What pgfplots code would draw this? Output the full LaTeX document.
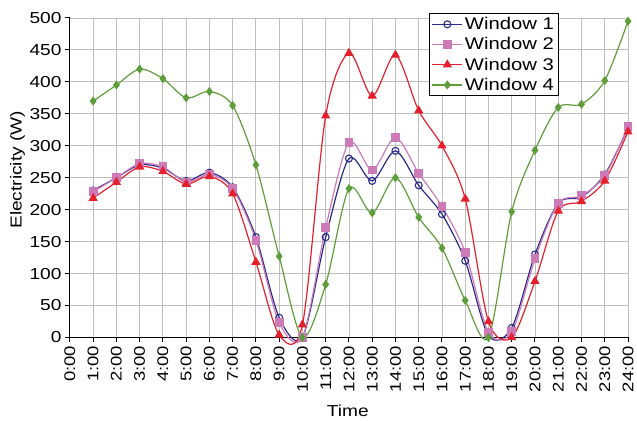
\documentclass[border=0pt]{standalone}
\usepackage{pgfplots}
\pgfplotsset{compat=1.18}
\usepackage{fontspec}
\setmainfont{Liberation Sans}[FakeStretch=1.2]
\definecolor{wone}{HTML}{2A2A8A}
\definecolor{wtwo}{HTML}{CC7AB8}
\definecolor{wthree}{HTML}{E3202B}
\definecolor{wfour}{HTML}{5E9E3A}
\begin{document}
\begin{tikzpicture}
\begin{axis}[
  at={(0,0)}, anchor=south west,
  width=559bp, height=320bp, scale only axis,
  xmin=0, xmax=24, ymin=0, ymax=500,
  xtick={0,...,24},
  xticklabels={0:00,1:00,2:00,3:00,4:00,5:00,6:00,7:00,8:00,9:00,10:00,11:00,12:00,13:00,14:00,15:00,16:00,17:00,18:00,19:00,20:00,21:00,22:00,23:00,24:00},
  x tick label style={rotate=90, anchor=east, font=\fontsize{15.5}{15.5}\selectfont},
  ytick={0,50,...,500},
  y tick label style={font=\fontsize{16}{16}\selectfont},
  /pgf/number format/assume math mode=true,
  axis x line*=bottom, axis y line*=left,
  axis line style={black, line width=1.1pt, -},
  tick align=outside, major tick length=5bp,
  tick style={black, line width=1pt},
  grid=major, major grid style={gray!50, line width=0.9pt},
  xlabel={Time}, ylabel={Electricity (W)},
  label style={font=\fontsize{16}{16}\selectfont},
  xlabel style={at={(axis description cs:0.498,-0.228)}, anchor=center},
  ylabel style={at={(axis description cs:-0.094,0.525)}, anchor=center},
  legend style={at={(axis description cs:0.644,1.0156)}, anchor=north west, draw=black, line width=0.9pt,
    font=\fontsize{17}{18}\selectfont, inner sep=2bp, row sep=2.5bp},
  legend cell align=left,
  legend image code/.code={\draw[mark repeat=2,mark phase=2] plot coordinates {(0bp,0bp)(15bp,0bp)(30bp,0bp)};},
  clip=false,
]
\addplot[wone, line width=1.2pt, smooth, mark=o, mark size=3.5bp, mark options={fill=white, line width=1.1pt}] coordinates {
(1,230)(2,250)(3,270)(4,265)(5,245)(6,258)(7,235)(8,157)(9,31)(10,0)(11,157)(12,280)(13,245)(14,292)(15,238)(16,193)(17,120)(18,3)(19,15)(20,130)(21,210)(22,220)(23,255)(24,328)};
\addplot[wtwo, line width=1.2pt, smooth, mark=square*, mark size=3.8bp] coordinates {
(1,228)(2,250)(3,272)(4,267)(5,243)(6,255)(7,233)(8,152)(9,23)(10,0)(11,172)(12,305)(13,262)(14,313)(15,257)(16,205)(17,133)(18,8)(19,9)(20,123)(21,210)(22,222)(23,253)(24,330)};
\addplot[wthree, line width=1.2pt, smooth, mark=triangle*, mark size=4.2bp] coordinates {
(1,218)(2,243)(3,267)(4,260)(5,240)(6,252)(7,225)(8,118)(9,4)(10,20)(11,347)(12,445)(13,378)(14,442)(15,355)(16,300)(17,217)(18,25)(19,0)(20,88)(21,198)(22,213)(23,245)(24,322)};
\addplot[wfour, line width=1.2pt, smooth, mark=diamond*, mark size=3.6bp] coordinates {
(1,370)(2,395)(3,420)(4,405)(5,375)(6,385)(7,363)(8,270)(9,127)(10,0)(11,83)(12,233)(13,195)(14,250)(15,188)(16,140)(17,58)(18,0)(19,197)(20,293)(21,360)(22,365)(23,402)(24,495)};
\legend{Window 1, Window 2, Window 3, Window 4}
\end{axis}
\pgfresetboundingbox
\path[use as bounding box] (-70bp,-83bp) rectangle (568bp,338bp);
\end{tikzpicture}
\end{document}
